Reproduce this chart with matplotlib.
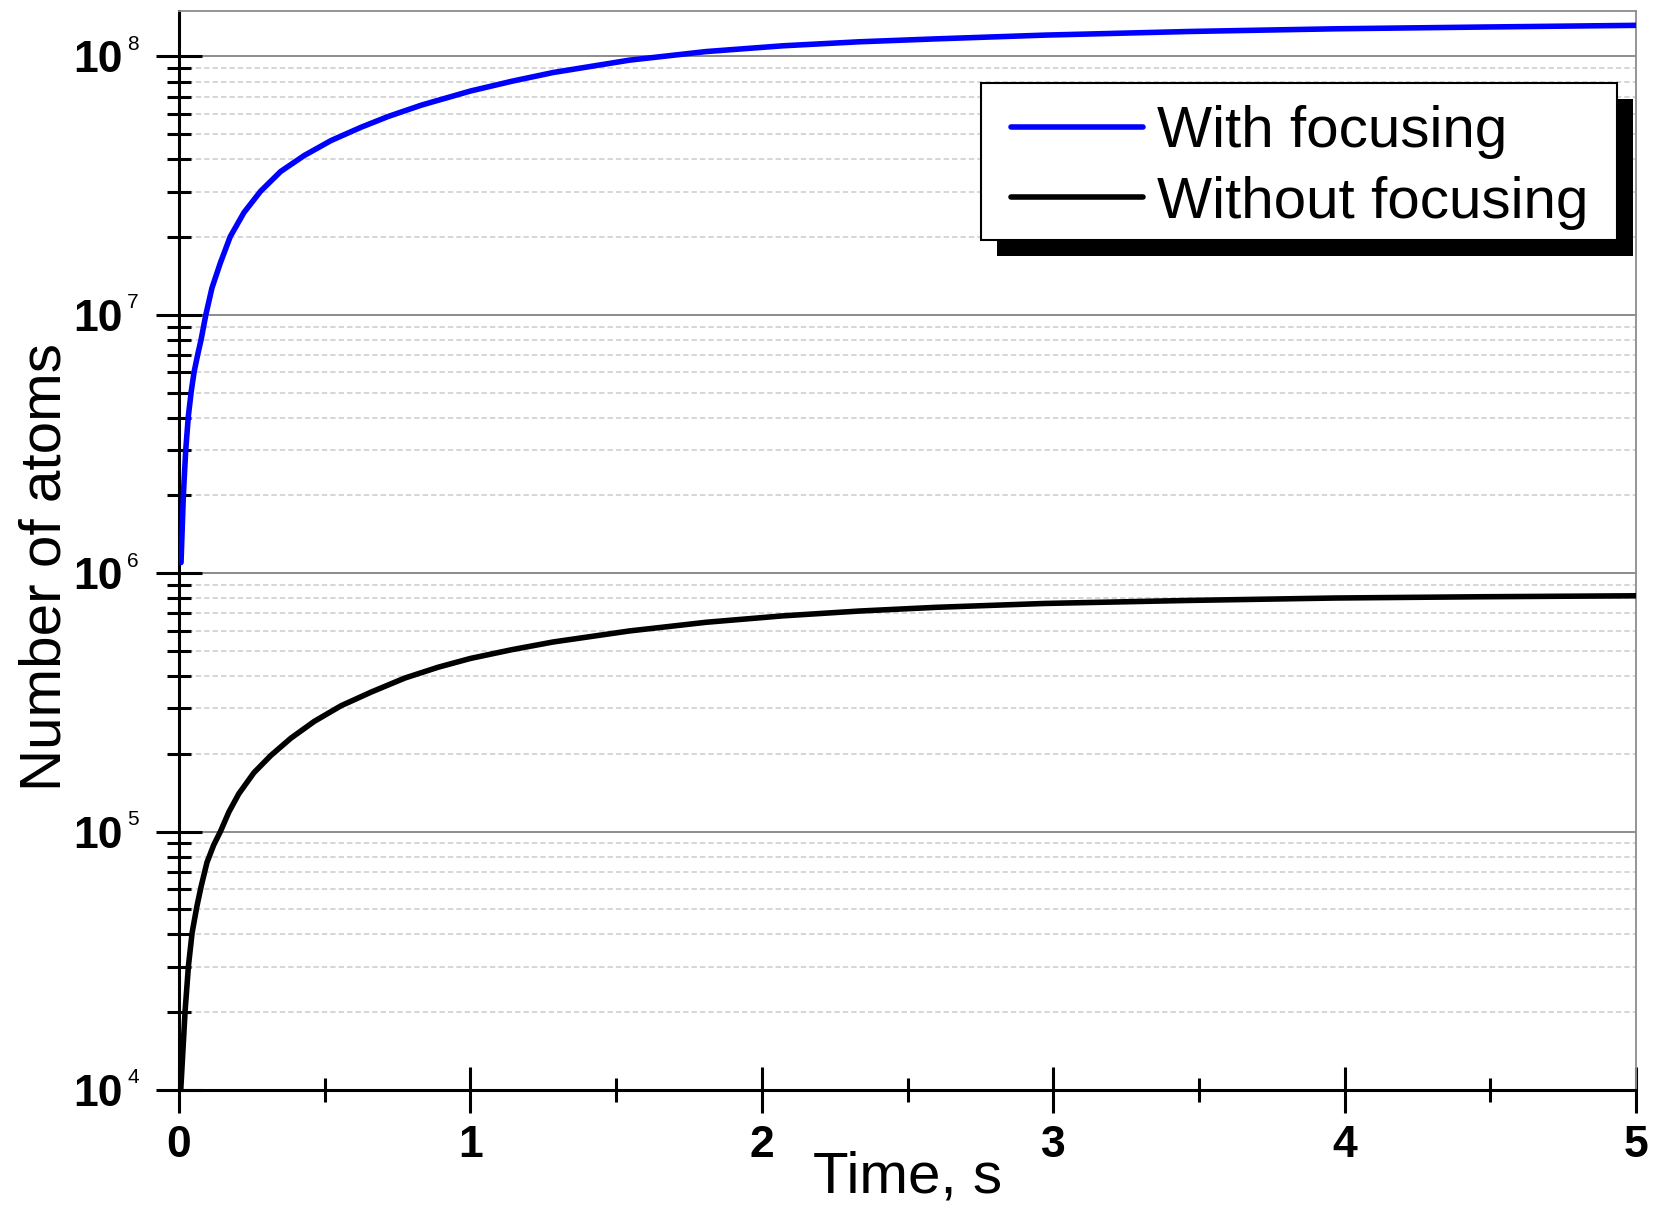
import numpy as np
import matplotlib
matplotlib.use("Agg")
import matplotlib.pyplot as plt
from matplotlib.ticker import FixedLocator, LogLocator, MultipleLocator, NullFormatter
from matplotlib.patches import Rectangle

# Accumulated number of atoms versus loading time
t_focus = [0.007, 0.015, 0.023, 0.032, 0.042, 0.052, 0.064, 0.076, 0.092, 0.113,
           0.142, 0.176, 0.223, 0.280, 0.349, 0.430, 0.522, 0.626, 0.718, 0.833,
           1.000, 1.142, 1.284, 1.546, 1.809, 2.072, 2.334, 2.597, 2.972, 3.471,
           3.969, 4.467, 5.000]
n_focus = [1.10e6, 2.01e6, 2.99e6, 4.05e6, 5.06e6, 6.03e6, 7.00e6, 8.04e6, 1.00e7, 1.27e7,
           1.59e7, 2.01e7, 2.49e7, 3.01e7, 3.59e7, 4.14e7, 4.73e7, 5.33e7, 5.86e7, 6.49e7,
           7.35e7, 8.02e7, 8.67e7, 9.68e7, 1.045e8, 1.10e8, 1.14e8, 1.17e8, 1.21e8, 1.25e8,
           1.28e8, 1.30e8, 1.32e8]

t_plain = [0.006, 0.021, 0.0325, 0.045, 0.061, 0.076, 0.096, 0.119, 0.142, 0.171,
           0.205, 0.257, 0.315, 0.384, 0.464, 0.556, 0.660, 0.775, 0.890, 1.000,
           1.142, 1.284, 1.546, 1.809, 2.072, 2.334, 2.597, 2.972, 3.471, 3.969,
           4.467, 5.000]
n_plain = [1.00e4, 2.03e4, 3.03e4, 4.06e4, 5.11e4, 6.14e4, 7.60e4, 8.87e4, 1.00e5, 1.19e5,
           1.40e5, 1.69e5, 1.97e5, 2.30e5, 2.67e5, 3.07e5, 3.47e5, 3.93e5, 4.33e5, 4.68e5,
           5.06e5, 5.42e5, 5.98e5, 6.46e5, 6.84e5, 7.14e5, 7.38e5, 7.64e5, 7.85e5, 8.02e5,
           8.11e5, 8.18e5]

series_labels = ["With focusing", "Without focusing"]
decades = [4, 5, 6, 7, 8]
x_ticks = [0, 1, 2, 3, 4, 5]
x_label = "Time, s"
y_label = "Number of atoms"

plt.rcParams["font.family"] = ["Liberation Sans", "DejaVu Sans"]

W, H = 1661, 1210
fig = plt.figure(figsize=(W / 100, H / 100), dpi=100)
ax = fig.add_axes([179 / W, 120 / H, 1457 / W, 1079 / H])

ax.plot(t_focus, n_focus, color="#0000ff", lw=4.0, solid_capstyle="round",
        solid_joinstyle="round", label=series_labels[0], zorder=3)
ax.plot(t_plain, n_plain, color="black", lw=4.0, solid_capstyle="round",
        solid_joinstyle="round", label=series_labels[1], zorder=3)

ax.set_yscale("log")
ax.set_xlim(0, 5)
ax.set_ylim(1e4, 1.5e8)

# y axis: decades labelled "10" with a small exponent next to each
ax.yaxis.set_major_locator(FixedLocator([10.0 ** d for d in decades]))
ax.yaxis.set_minor_locator(LogLocator(base=10, subs=np.arange(2, 10)))
ax.yaxis.set_minor_formatter(NullFormatter())
ax.set_yticklabels(["10"] * len(decades), fontweight="bold", fontsize=32)

ax.xaxis.set_major_locator(FixedLocator(x_ticks))
ax.xaxis.set_minor_locator(MultipleLocator(0.5))
ax.set_xticklabels([str(v) for v in x_ticks], fontweight="bold", fontsize=32)

ax.tick_params(which="major", direction="inout", length=33, width=2.2, color="black")
ax.tick_params(which="minor", direction="inout", length=17, width=2.2, color="black")
ax.tick_params(axis="y", which="major", pad=24)
ax.tick_params(axis="x", which="major", pad=9)
ax.tick_params(top=False, right=False, which="both")

for d in decades:
    ax.annotate(str(d), xy=(0, 10.0 ** d), xycoords=("axes fraction", "data"),
                xytext=(-37.4, 4.7), textcoords="offset points",
                fontsize=15, ha="left", va="baseline")

# grid: solid at decades, dashed in between
ax.yaxis.grid(True, which="major", color="#8c8c8c", lw=1.4, ls="-")
ax.yaxis.grid(True, which="minor", color="#cccccc", lw=1.1, ls=(0, (3.5, 2)))
ax.xaxis.grid(False)
ax.set_axisbelow(True)

for side in ("left", "bottom"):
    ax.spines[side].set_color("black")
    ax.spines[side].set_linewidth(2.2)
for side in ("top", "right"):
    ax.spines[side].set_color("#8c8c8c")
    ax.spines[side].set_linewidth(1.3)

ax.set_xlabel(x_label, fontsize=42, va="baseline")
ax.xaxis.set_label_coords(0.5, (18 - 120) / 1079)
ax.set_ylabel(y_label, fontsize=42, va="baseline")
ax.yaxis.set_label_coords((61 - 179) / 1457, (1090 - 567) / 1079)

# legend entries, placed inside a square white box with a solid drop shadow
leg = ax.legend(loc="upper left", bbox_to_anchor=(1011 / W, 1 - 105 / H),
                bbox_transform=fig.transFigure, fontsize=42, frameon=False,
                borderpad=0, borderaxespad=0, labelspacing=0.29,
                handlelength=2.26, handletextpad=0.24)
leg.set_zorder(6)
for line in leg.get_lines():
    line.set_linewidth(4.0)
    line.set_solid_capstyle("round")

box_x0, box_y0, box_x1, box_y1 = 981, 83, 1617, 240
shadow_dx, shadow_dy = 16, 16
shadow = Rectangle(((box_x0 + shadow_dx) / W, 1 - (box_y1 + shadow_dy) / H),
                   (box_x1 - box_x0) / W, (box_y1 - box_y0) / H,
                   transform=fig.transFigure, facecolor="black", edgecolor="none",
                   zorder=5.4, clip_on=False)
frame = Rectangle((box_x0 / W, 1 - box_y1 / H),
                  (box_x1 - box_x0) / W, (box_y1 - box_y0) / H,
                  transform=fig.transFigure, facecolor="white", edgecolor="black",
                  lw=1.5, zorder=5.5, clip_on=False)
ax.add_artist(shadow)
ax.add_artist(frame)

fig.savefig("out.png", dpi=100)
